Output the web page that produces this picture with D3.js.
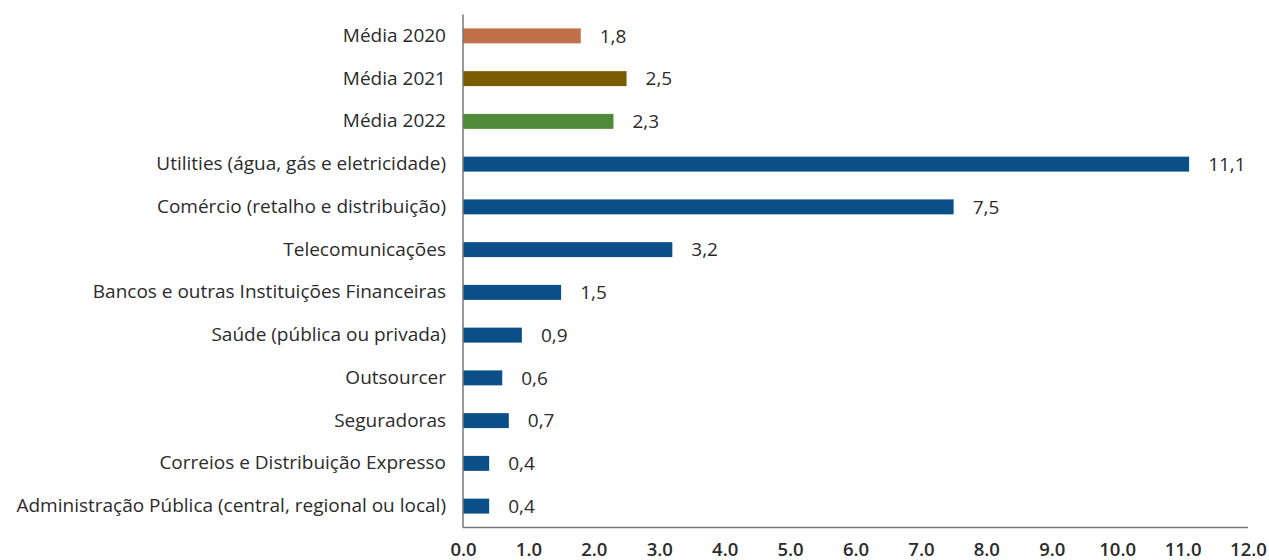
<!DOCTYPE html>
<html>
<head>
<meta charset="utf-8">
<script src="https://cdn.jsdelivr.net/npm/d3@7"></script>
<style>
  html, body { margin: 0; padding: 0; background: #fff; }
  svg { display: block; font-family: "Open Sans", "Noto Sans", sans-serif; }
</style>
</head>
<body>
<svg id="chart" width="1269" height="560"></svg>
<script>
const categories = [
  "Média 2020",
  "Média 2021",
  "Média 2022",
  "Utilities (água, gás e eletricidade)",
  "Comércio (retalho e distribuição)",
  "Telecomunicações",
  "Bancos e outras Instituições Financeiras",
  "Saúde (pública ou privada)",
  "Outsourcer",
  "Seguradoras",
  "Correios e Distribuição Expresso",
  "Administração Pública (central, regional ou local)"
];
const values = [1.8, 2.5, 2.3, 11.1, 7.5, 3.2, 1.5, 0.9, 0.6, 0.7, 0.4, 0.4];
const barColors = ["#c0714a", "#7a5b00", "#4f8a3b", "#0b4f88", "#0b4f88", "#0b4f88",
                   "#0b4f88", "#0b4f88", "#0b4f88", "#0b4f88", "#0b4f88", "#0b4f88"];
const xTicks = [0, 1, 2, 3, 4, 5, 6, 7, 8, 9, 10, 11, 12];

const svg = d3.select("#chart");
const plotLeft = 463, plotRight = 1248, plotTop = 14.5, plotBottom = 527.5;
const FONT = '"Open Sans", "Noto Sans", sans-serif';
const TEXT = "#2b2b2b";

const x = d3.scaleLinear().domain([0, 12]).range([plotLeft, plotRight]);
const y = d3.scaleBand().domain(categories).range([plotTop, plotBottom]).paddingInner(0.65).paddingOuter(0.325);

const fmt = v => d3.format(".1f")(v).replace(".", ",");

// bars
svg.append("g").selectAll("rect")
  .data(categories)
  .join("rect")
  .attr("x", x(0))
  .attr("y", d => y(d))
  .attr("width", (d, i) => x(values[i]) - x(0))
  .attr("height", y.bandwidth())
  .attr("fill", (d, i) => barColors[i]);

// value labels
svg.append("g").selectAll("text")
  .data(categories)
  .join("text")
  .attr("x", (d, i) => x(values[i]) + 19)
  .attr("y", d => y(d) + y.bandwidth() / 2)
  .attr("dy", "0.35em")
  .attr("font-size", 19)
  .attr("font-weight", 500)
  .attr("fill", TEXT)
  .text((d, i) => fmt(values[i]));

// category axis
const yAxis = svg.append("g")
  .attr("transform", `translate(${plotLeft},0)`)
  .call(d3.axisLeft(y).tickSize(0).tickPadding(17))
  .attr("font-family", FONT)
  .attr("font-size", 19);
yAxis.select(".domain").remove();
yAxis.selectAll("text").attr("fill", TEXT).attr("font-weight", 500);

// value axis
const xAxis = svg.append("g")
  .attr("transform", `translate(0,${plotBottom})`)
  .call(d3.axisBottom(x).tickValues(xTicks).tickSize(0).tickPadding(15).tickFormat(d3.format(".1f")))
  .attr("font-family", FONT)
  .attr("font-size", 18.5);
xAxis.select(".domain").remove();
xAxis.selectAll("text").attr("fill", TEXT).attr("font-weight", 600);

// axis lines
svg.append("line")
  .attr("x1", plotLeft).attr("x2", plotLeft).attr("y1", plotTop).attr("y2", plotBottom)
  .attr("stroke", "#777").attr("stroke-width", 1.5);
svg.append("line")
  .attr("x1", plotLeft).attr("x2", plotRight).attr("y1", plotBottom).attr("y2", plotBottom)
  .attr("stroke", "#777").attr("stroke-width", 1.5);
</script>
</body>
</html>
